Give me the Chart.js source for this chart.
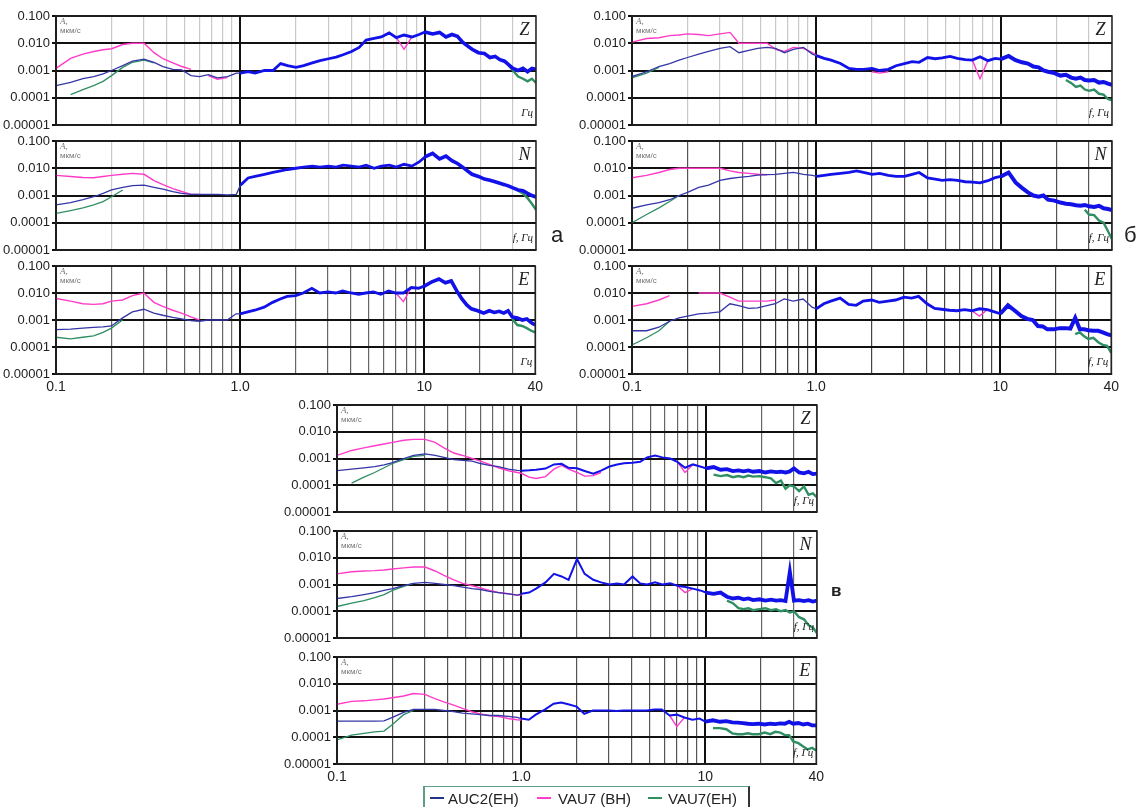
<!DOCTYPE html>
<html><head><meta charset="utf-8">
<script src="https://cdn.jsdelivr.net/npm/chart.js@4.4.0/dist/chart.umd.min.js"></script>
<style>
html,body{margin:0;padding:0;background:#fff;width:1146px;height:807px;overflow:hidden;position:relative;font-family:Arial,"Liberation Sans",sans-serif}
.grp{position:absolute;color:#222;font-family:Arial,"Liberation Sans",sans-serif;line-height:1}
.lgt{position:absolute;font-size:15px;color:#222;line-height:1;white-space:nowrap}
.lgd{position:absolute;height:2px}
</style></head><body>
<script>
const _ = null;
// frequencies (Hz)
const FREQ = [0.1,0.12,0.14,0.16,0.18,0.2,0.23,0.26,0.3,0.34,0.38,0.43,0.48,0.54,0.6,0.67,0.75,0.85,0.95,
  1,1.1,1.2,1.35,1.5,1.65,1.8,2,2.2,2.45,2.7,3,3.3,3.6,4,4.4,4.8,5.3,5.8,6.4,7,7.7,8.5,9.3,
  10,11,12,13,14,15,16,17,18,19.5,21,22.5,24,25.5,27,28.5,30,32,34,36,38,40];
const X_GRID = [0.1,0.2,0.3,0.4,0.5,0.6,0.7,0.8,0.9,1,2,3,4,5,6,7,8,9,10,20,30,40];
const X_LABEL_VALUES = [0.1,1,10,40];
const X_LABEL_TEXT = ['0.1','1.0','10','40'];
const Y_TICKS = [1e-5,1e-4,1e-3,1e-2,1e-1];
const Y_LABELS = ['0.00001','0.0001','0.001','0.010','0.100'];
const SERIES_NAMES = ['AUC2(EH)','VAU7 (BH)','VAU7(EH)'];
const AMP_LABEL = ['A,','мкм/с'];
const GROUP_LETTERS = ['а','б','в'];

// ---- group а ----
const aZ_auc2 = [2.8e-4,3.7e-4,5e-4,6e-4,7.5e-4,1e-3,1.5e-3,2.2e-3,2.6e-3,2e-3,1.4e-3,1.1e-3,1.05e-3,6.5e-4,6e-4,7e-4,5.4e-4,6e-4,8e-4,
  8e-4,9e-4,8e-4,1e-3,1e-3,1.8e-3,1.5e-3,1.3e-3,1.5e-3,1.9e-3,2.3e-3,2.7e-3,3.1e-3,3.8e-3,5e-3,7e-3,1.3e-2,1.5e-2,1.7e-2,2.4e-2,1.6e-2,2e-2,1.7e-2,2.1e-2,
  2.6e-2,2.2e-2,2.5e-2,1.7e-2,2.1e-2,1.8e-2,1.1e-2,8e-3,6e-3,4.5e-3,4.2e-3,3e-3,3.3e-3,2.5e-3,2.2e-3,1.6e-3,1.2e-3,1e-3,1.2e-3,9e-4,1.2e-3,1.1e-3];
const aZ_vau7bh = [1.2e-3,2.8e-3,4e-3,5e-3,5.8e-3,6.3e-3,9e-3,1e-2,1e-2,4.5e-3,2.7e-3,1.9e-3,1.4e-3,1.1e-3,_,6.5e-4,4.8e-4,5.5e-4,_,
  _,_,_,_,_,_,_,_,_,_,_,_,_,_,_,_,_,_,_,_,1.6e-2,6e-3,1.7e-2,_,
  _,_,_,_,_,_,_,_,_,_,_,_,_,_,_,_,_,_,_,_,_,_];
const aZ_vau7eh = [_,1.3e-4,2e-4,2.8e-4,4e-4,6.5e-4,1.3e-3,2e-3,2.4e-3,1.9e-3,_,_,_,_,_,_,_,_,_,
  _,_,_,_,_,_,_,_,_,_,_,_,_,_,_,_,_,_,_,_,_,_,_,_,
  _,_,_,_,_,_,_,_,_,_,_,_,_,_,_,1.5e-3,1e-3,6e-4,5e-4,4e-4,5e-4,3.5e-4];

const aN_auc2 = [4.5e-4,5.5e-4,7e-4,9e-4,1.2e-3,1.6e-3,2e-3,2.3e-3,2.4e-3,2e-3,1.7e-3,1.4e-3,1.2e-3,1.1e-3,1.1e-3,1.1e-3,1.1e-3,1.05e-3,1.1e-3,
  2.4e-3,4.4e-3,5e-3,6e-3,7e-3,8e-3,9e-3,1e-2,1.1e-2,1.2e-2,1.1e-2,1.2e-2,1.1e-2,1.3e-2,1.2e-2,1.1e-2,1.3e-2,1e-2,1.2e-2,1.3e-2,1.1e-2,1.4e-2,1.2e-2,1.7e-2,
  2.6e-2,3.5e-2,2.2e-2,2.8e-2,1.9e-2,1.5e-2,1.1e-2,8e-3,6e-3,5e-3,4e-3,3.6e-3,3.2e-3,2.8e-3,2.5e-3,2.2e-3,1.9e-3,1.6e-3,1.5e-3,1.2e-3,1e-3,8.8e-4];
const aN_vau7bh = [5.5e-3,5e-3,4.6e-3,4.5e-3,5e-3,5.5e-3,6e-3,6.5e-3,6e-3,3.5e-3,2.5e-3,1.8e-3,1.4e-3,1.1e-3,1.1e-3,_,_,_,_,
  _,_,_,_,_,_,_,_,_,_,_,_,_,_,_,_,_,_,_,_,_,_,_,_,
  _,_,_,_,_,_,_,_,_,_,_,_,_,_,_,_,_,_,_,_,_,_];
const aN_vau7eh = [2.2e-4,2.8e-4,3.5e-4,4.5e-4,6e-4,9e-4,1.6e-3,_,_,_,_,_,_,_,_,_,_,_,_,
  _,_,_,_,_,_,_,_,_,_,_,_,_,_,_,_,_,_,_,_,_,_,_,_,
  _,_,_,_,_,_,_,_,_,_,_,_,_,_,_,_,_,1.5e-3,1.2e-3,8e-4,5e-4,3e-4];

const aE_auc2 = [4.4e-4,4.6e-4,5e-4,5.3e-4,5.6e-4,6e-4,1.2e-3,2e-3,2.5e-3,1.8e-3,1.5e-3,1.25e-3,1.1e-3,9.5e-4,9e-4,1e-3,1e-3,1e-3,1.7e-3,
  1.7e-3,2e-3,2.3e-3,3e-3,4.5e-3,6e-3,7.5e-3,8e-3,1e-2,1.5e-2,1e-2,1.1e-2,1e-2,1.2e-2,1e-2,9e-3,1e-2,1.1e-2,9e-3,1.2e-2,1e-2,1e-2,1.6e-2,1.5e-2,
  1.8e-2,2.6e-2,3.3e-2,2.4e-2,2.8e-2,1.2e-2,6e-3,3.6e-3,2.6e-3,2.2e-3,1.8e-3,2.2e-3,1.9e-3,2.1e-3,1.8e-3,2.2e-3,1.3e-3,1.2e-3,1e-3,1.1e-3,8e-4,6.5e-4];
const aE_vau7bh = [6.3e-3,5e-3,4e-3,3.8e-3,4e-3,5e-3,5.5e-3,8e-3,1e-2,4.5e-3,3.2e-3,2.3e-3,1.8e-3,1.3e-3,1e-3,_,_,_,_,
  _,_,_,_,_,_,_,_,_,_,_,_,_,_,_,_,_,_,_,_,1e-2,4.8e-3,1.6e-2,_,
  _,_,_,_,_,_,_,_,_,_,_,_,_,_,_,_,_,_,_,_,_,_];
const aE_vau7eh = [2.3e-4,2e-4,2.3e-4,2.6e-4,3.5e-4,5e-4,1e-3,_,_,_,_,_,_,_,_,_,_,_,_,
  _,_,_,_,_,_,_,_,_,_,_,_,_,_,_,_,_,_,_,_,_,_,_,_,
  _,_,_,_,_,_,_,_,_,_,_,_,_,_,_,_,1.1e-3,6.5e-4,6e-4,5e-4,4e-4,3.5e-4];

// ---- group б ----
const bZ_auc2 = [6e-4,9e-4,1.4e-3,1.8e-3,2.4e-3,3e-3,4e-3,5e-3,6.5e-3,7.5e-3,4.5e-3,5.5e-3,6.5e-3,7e-3,6.5e-3,4.5e-3,6e-3,7e-3,4e-3,
  3.5e-3,2.8e-3,2.4e-3,1.8e-3,1.2e-3,1.1e-3,1.1e-3,1.2e-3,1e-3,1.1e-3,1.5e-3,1.8e-3,2.1e-3,2e-3,3e-3,2.7e-3,2.9e-3,3.3e-3,2.8e-3,2.5e-3,2.4e-3,3.2e-3,2.3e-3,2.8e-3,
  2.6e-3,3.4e-3,2.4e-3,2e-3,1.8e-3,1.4e-3,1.3e-3,1e-3,9e-4,8e-4,6.5e-4,7e-4,5.5e-4,5e-4,5.5e-4,4.5e-4,4.3e-4,4.5e-4,3.6e-4,3.8e-4,3.3e-4,3e-4];
const bZ_vau7bh = [1.1e-2,1.5e-2,1.6e-2,1.9e-2,2e-2,2.2e-2,2.1e-2,1.9e-2,2.2e-2,2.5e-2,1e-2,1e-2,1e-2,1e-2,6e-3,5e-3,7e-3,6.5e-3,4.5e-3,
  3.5e-3,_,_,_,_,_,_,9e-4,8e-4,9e-4,_,_,_,_,_,_,_,_,_,_,2.4e-3,5e-4,2.3e-3,_,
  _,_,_,_,_,_,_,_,_,_,_,_,_,_,_,_,_,_,_,_,_,_];
const bZ_vau7eh = [5.4e-4,8e-4,1.3e-3,_,_,_,_,_,_,_,_,_,_,_,_,_,_,_,_,
  _,_,_,_,_,_,_,_,_,_,_,_,_,_,_,_,_,_,_,_,_,_,_,_,
  _,_,_,_,_,_,_,_,_,_,_,4.5e-4,3.5e-4,2.5e-4,2.8e-4,2e-4,1.8e-4,2e-4,1.4e-4,1.3e-4,9e-5,8e-5];

const bN_auc2 = [3.4e-4,4.5e-4,5.5e-4,7e-4,1e-3,1.3e-3,2e-3,2.4e-3,3.6e-3,4.2e-3,4.6e-3,5e-3,5.6e-3,5.8e-3,6e-3,6.5e-3,7e-3,6e-3,5.5e-3,
  5e-3,5.5e-3,6e-3,6.5e-3,7e-3,8e-3,7e-3,6e-3,6.5e-3,5.5e-3,5e-3,5e-3,6e-3,7e-3,4.4e-3,4e-3,3.6e-3,3.8e-3,3.6e-3,3.2e-3,3.1e-3,2.9e-3,3.5e-3,4.5e-3,
  5e-3,7e-3,3e-3,1.9e-3,1.3e-3,1e-3,9e-4,1e-3,7e-4,6.5e-4,5.5e-4,5e-4,4.8e-4,4.4e-4,4.2e-4,4.5e-4,4e-4,3.8e-4,4.2e-4,3.4e-4,3.2e-4,2.9e-4];
const bN_vau7bh = [4.5e-3,5.5e-3,7e-3,9e-3,1e-2,1e-2,1e-2,1e-2,1e-2,8e-3,7e-3,6.5e-3,6e-3,5.8e-3,_,_,_,_,_,
  _,_,_,_,_,_,_,_,_,_,_,_,_,_,_,_,_,_,_,_,_,_,_,_,
  _,_,_,_,_,_,_,_,_,_,_,_,_,_,_,_,_,_,_,_,_,_];
const bN_vau7eh = [1e-4,2e-4,3.5e-4,6e-4,1e-3,_,_,_,_,_,_,_,_,_,_,_,_,_,_,
  _,_,_,_,_,_,_,_,_,_,_,_,_,_,_,_,_,_,_,_,_,_,_,_,
  _,_,_,_,_,_,_,_,_,_,_,_,_,_,_,3e-4,2e-4,1.9e-4,1.2e-4,1e-4,5e-5,2.5e-5];

const bE_auc2 = [4e-4,4e-4,5.4e-4,9e-4,1.2e-3,1.4e-3,1.7e-3,1.8e-3,2e-3,4e-3,3.4e-3,2.7e-3,2.8e-3,3.4e-3,4e-3,6e-3,5e-3,6e-3,3e-3,
  2.6e-3,4e-3,5e-3,6.5e-3,3.8e-3,3.5e-3,5e-3,5.5e-3,4.5e-3,5e-3,5.5e-3,7e-3,6.5e-3,7.5e-3,4e-3,2.7e-3,2.5e-3,2.3e-3,2.2e-3,2.4e-3,2.2e-3,2.6e-3,2.4e-3,2e-3,
  1.7e-3,3.5e-3,2.2e-3,1.4e-3,1.1e-3,1e-3,6e-4,5.8e-4,4.5e-4,4.5e-4,5e-4,5e-4,4.8e-4,1.2e-3,4.5e-4,4.5e-4,4.2e-4,4e-4,4e-4,3.5e-4,3e-4,2.7e-4];
const bE_vau7bh = [3.2e-3,4e-3,5.5e-3,8e-3,_,_,1e-2,1e-2,1e-2,7e-3,5e-3,5e-3,5e-3,5e-3,5.5e-3,_,_,_,_,
  _,_,_,_,_,_,_,_,_,_,_,_,_,_,_,_,_,_,_,_,2.2e-3,1.4e-3,2.4e-3,_,
  _,_,_,_,_,_,_,_,_,_,_,_,_,_,_,_,_,_,_,_,_,_];
const bE_vau7eh = [1.2e-4,2.2e-4,4e-4,9e-4,_,_,_,_,_,_,_,_,_,_,_,_,_,_,_,
  _,_,_,_,_,_,_,_,_,_,_,_,_,_,_,_,_,_,_,_,_,_,_,_,
  _,_,_,_,_,_,_,_,_,_,_,_,_,3e-4,3.5e-4,2.5e-4,2e-4,2.2e-4,1.5e-4,1.2e-4,1.1e-4,6e-5];

// ---- group в ----
const vZ_auc2 = [3.5e-4,4e-4,4.5e-4,5e-4,5.8e-4,7e-4,1e-3,1.3e-3,1.5e-3,1.3e-3,1.1e-3,9e-4,8.5e-4,8e-4,6.5e-4,5.5e-4,5e-4,4e-4,3.6e-4,
  3.5e-4,3.6e-4,3.8e-4,4.2e-4,6e-4,6.3e-4,4.5e-4,4.3e-4,3.4e-4,2.7e-4,3.5e-4,5e-4,6e-4,6.6e-4,7e-4,7.5e-4,1.1e-3,1.3e-3,1.1e-3,1e-3,7.5e-4,4.5e-4,6e-4,5e-4,
  4.3e-4,4.8e-4,3.8e-4,4e-4,3.4e-4,3.6e-4,3.3e-4,3.6e-4,3.2e-4,3.4e-4,3e-4,3.3e-4,3.1e-4,3.2e-4,3e-4,3.3e-4,4.3e-4,3e-4,2.8e-4,3.2e-4,2.6e-4,2.7e-4];
const vZ_vau7bh = [1.3e-3,2e-3,2.5e-3,3e-3,3.5e-3,4e-3,4.8e-3,5.2e-3,5.2e-3,4e-3,2.5e-3,1.6e-3,1.3e-3,1e-3,8e-4,6e-4,4.5e-4,3.5e-4,3e-4,
  2.8e-4,2e-4,1.8e-4,2.1e-4,4e-4,5.5e-4,4e-4,3e-4,2.2e-4,2.3e-4,3e-4,_,_,_,_,_,_,_,_,_,7.5e-4,3e-4,6e-4,_,
  _,_,_,_,_,_,_,_,_,_,_,_,_,_,_,_,_,_,_,_,_,_];
const vZ_vau7eh = [_,1.2e-4,2e-4,3e-4,4.5e-4,6.5e-4,9e-4,1.2e-3,1.3e-3,_,_,_,_,_,_,_,_,_,_,
  _,_,_,_,_,_,_,_,_,_,_,_,_,_,_,_,_,_,_,_,_,_,_,_,
  _,2.5e-4,2.2e-4,2.4e-4,2e-4,2.2e-4,2e-4,2.3e-4,2.1e-4,2.2e-4,2e-4,1.8e-4,1.2e-4,1.5e-4,7.5e-5,1e-4,9e-5,6e-5,9e-5,4.4e-5,5e-5,3.5e-5];

const vN_auc2 = [3e-4,3.5e-4,4.2e-4,5e-4,6e-4,7e-4,9e-4,1.1e-3,1.2e-3,1.1e-3,1e-3,9e-4,8e-4,7e-4,6.5e-4,5.5e-4,5e-4,4.5e-4,4e-4,
  4.5e-4,5e-4,7e-4,1.2e-3,2.5e-3,2e-3,1.5e-3,9e-3,2.5e-3,1.5e-3,1.2e-3,1e-3,1.1e-3,1e-3,2e-3,1.1e-3,1e-3,1.2e-3,1e-3,1.1e-3,9e-4,8e-4,7e-4,6e-4,
  5e-4,4.5e-4,5e-4,3.5e-4,3e-4,3.2e-4,2.8e-4,3e-4,2.6e-4,2.8e-4,2.5e-4,2.7e-4,2.5e-4,2.6e-4,2.4e-4,3e-3,2.5e-4,2.6e-4,2.4e-4,2.6e-4,2.3e-4,2.5e-4];
const vN_vau7bh = [2.5e-3,3e-3,3.2e-3,3.3e-3,3.5e-3,3.8e-3,4.2e-3,4.5e-3,4.5e-3,3.2e-3,2.2e-3,1.5e-3,1.1e-3,9e-4,7.5e-4,6e-4,5e-4,4.5e-4,4e-4,
  4e-4,_,_,_,_,_,_,_,_,_,_,_,_,_,_,_,_,_,_,_,9e-4,5e-4,7e-4,_,
  _,_,_,_,_,_,_,_,_,_,_,_,_,_,_,_,_,_,_,_,_,_];
const vN_vau7eh = [1.5e-4,2e-4,2.5e-4,3.2e-4,4.2e-4,6e-4,8.5e-4,1.1e-3,_,_,_,_,_,_,_,_,_,_,_,
  _,_,_,_,_,_,_,_,_,_,_,_,_,_,_,_,_,_,_,_,_,_,_,_,
  _,_,_,2.5e-4,2e-4,1.3e-4,1.2e-4,1.3e-4,1.1e-4,1.2e-4,1.3e-4,1.1e-4,1.2e-4,1e-4,1.1e-4,9e-5,1e-4,6e-5,5e-5,3e-5,2.5e-5,1.5e-5];

const vE_auc2 = [4e-4,4e-4,4e-4,4e-4,4.1e-4,5.5e-4,8.5e-4,1.1e-3,1.1e-3,1.1e-3,1e-3,9e-4,8e-4,7.5e-4,7e-4,6.5e-4,6.5e-4,6e-4,5.5e-4,
  5e-4,4.5e-4,7e-4,1.1e-3,1.8e-3,2e-3,1.7e-3,1.4e-3,7.5e-4,1e-3,1e-3,1e-3,9.5e-4,1e-3,1e-3,1e-3,1e-3,1.1e-3,1.1e-3,6.5e-4,7e-4,5.5e-4,4.5e-4,5e-4,
  3.8e-4,4.3e-4,3.8e-4,4e-4,3.6e-4,3.5e-4,3.4e-4,3.2e-4,3.1e-4,3.2e-4,3e-4,3.2e-4,3.1e-4,3.3e-4,3.2e-4,3.8e-4,3.2e-4,3.4e-4,3e-4,3.2e-4,2.8e-4,2.8e-4];
const vE_vau7bh = [1.7e-3,2.2e-3,2.3e-3,2.5e-3,2.7e-3,3e-3,3.5e-3,4.3e-3,4e-3,2.8e-3,2.1e-3,1.6e-3,1.2e-3,9e-4,7.5e-4,6.5e-4,6e-4,5e-4,4.5e-4,
  4.4e-4,_,_,_,_,_,_,_,_,_,_,_,_,_,_,_,_,_,_,6.5e-4,2.5e-4,5.5e-4,_,_,
  _,_,_,_,_,_,_,_,_,_,_,_,_,_,_,_,_,_,_,_,_,_];
const vE_vau7eh = [8e-5,1.2e-4,1.4e-4,1.6e-4,1.7e-4,3e-4,7e-4,1e-3,_,_,_,_,_,_,_,_,_,_,_,
  _,_,_,_,_,_,_,_,_,_,_,_,_,_,_,_,_,_,_,_,_,_,_,_,
  _,2.2e-4,2.2e-4,2e-4,1.4e-4,1.3e-4,1.3e-4,1.4e-4,1.3e-4,1.3e-4,1.5e-4,1.3e-4,1.6e-4,1.5e-4,1.2e-4,1.2e-4,7e-5,6e-5,4.5e-5,3.5e-5,4e-5,3.2e-5];

// ---- layout / style ----
const COLORS = {blueLo:'#3535a8', blue:'#1212e8', magenta:'#ff3cc8', green:'#2f8f62'};
const PANELS = [
  {left:56, right:536, top:16, bottom:125, comp:'Z', unit:'Гц', minor:'#c9c9c9', xl:false, wMid:2.8, wHigh:3.6, data:[aZ_auc2,aZ_vau7bh,aZ_vau7eh]},
  {left:56, right:536, top:141, bottom:250, comp:'N', unit:'f, Гц', minor:'#c9c9c9', xl:false, wMid:2.8, wHigh:3.6, data:[aN_auc2,aN_vau7bh,aN_vau7eh]},
  {left:56, right:536, top:266, bottom:374, comp:'E', unit:'Гц', minor:'#666', xl:true, wMid:2.8, wHigh:3.6, data:[aE_auc2,aE_vau7bh,aE_vau7eh]},
  {left:632, right:1112, top:16, bottom:125, comp:'Z', unit:'f, Гц', minor:'#c9c9c9', xl:false, wMid:2.8, wHigh:4, data:[bZ_auc2,bZ_vau7bh,bZ_vau7eh]},
  {left:632, right:1112, top:141, bottom:250, comp:'N', unit:'f, Гц', minor:'#555', xl:false, wMid:2.8, wHigh:4, data:[bN_auc2,bN_vau7bh,bN_vau7eh]},
  {left:632, right:1112, top:266, bottom:374, comp:'E', unit:'f, Гц', minor:'#444', xl:true, wMid:2.8, wHigh:4, data:[bE_auc2,bE_vau7bh,bE_vau7eh]},
  {left:337, right:817, top:405, bottom:512, comp:'Z', unit:'f, Гц', minor:'#666', xl:false, wMid:2, wHigh:3.8, data:[vZ_auc2,vZ_vau7bh,vZ_vau7eh]},
  {left:337, right:817, top:531, bottom:638, comp:'N', unit:'f, Гц', minor:'#666', xl:false, wMid:2, wHigh:3.8, data:[vN_auc2,vN_vau7bh,vN_vau7eh]},
  {left:337, right:817, top:657, bottom:764, comp:'E', unit:'f, Гц', minor:'#555', xl:true, wMid:2, wHigh:3.8, data:[vE_auc2,vE_vau7bh,vE_vau7eh]}
];

Chart.defaults.font.family = 'Arial, "Liberation Sans", sans-serif';
const isMajor = v => Math.abs(v-1)<1e-9 || Math.abs(v-10)<1e-9;
const pts = arr => FREQ.map((f,i)=>({x:f, y:arr[i]}));

function decoPlugin(p){
  return {id:'deco', afterDraw(chart){
    const ctx = chart.ctx, a = chart.chartArea, xs = chart.scales.x, ys = chart.scales.y;
    ctx.save();
    ctx.strokeStyle = '#222'; ctx.lineWidth = 1.5;
    ctx.strokeRect(a.left, a.top, a.right-a.left, a.bottom-a.top);
    ctx.fillStyle = '#222'; ctx.textAlign = 'center'; ctx.textBaseline = 'middle';
    ctx.font = 'italic 18px "Liberation Serif","DejaVu Serif",serif';
    ctx.fillText(p.comp, (xs.getPixelForValue(30)+a.right)/2, (a.top+ys.getPixelForValue(0.01))/2+1);
    ctx.font = 'italic 11px "Liberation Serif","DejaVu Serif",serif';
    ctx.textAlign = 'right';
    ctx.fillText(p.unit, a.right-3, (ys.getPixelForValue(1e-4)+a.bottom)/2+2);
    ctx.textAlign = 'left'; ctx.fillStyle = '#777';
    ctx.font = 'italic 9px "Liberation Serif",serif';
    ctx.fillText(AMP_LABEL[0], a.left+4, a.top+6);
    ctx.font = '8px Arial';
    ctx.fillText(AMP_LABEL[1], a.left+4, a.top+15);
    ctx.restore();
  }};
}

function buildPanel(p){
  const yW=56, padT=10, padR=12, padB=p.xl?0:10, xH=p.xl?24:0;
  const L=Math.round(p.left), R=Math.round(p.right), T=Math.round(p.top), B=Math.round(p.bottom);
  const w=(R-L)+yW+padR, h=(B-T)+padT+padB+xH;
  const cv=document.createElement('canvas');
  cv.width=w; cv.height=h;
  Object.assign(cv.style,{position:'absolute',left:(L-yW)+'px',top:(T-padT)+'px',width:w+'px',height:h+'px'});
  document.body.appendChild(cv);
  const datasets = [
    {label:SERIES_NAMES[0], data:pts(p.data[0]), borderColor:COLORS.blue, borderWidth:1.3, borderJoinStyle:'miter',
     segment:{borderColor:c=>FREQ[c.p0DataIndex]<1?COLORS.blueLo:COLORS.blue,
              borderWidth:c=>{const f=FREQ[c.p0DataIndex]; return f<1?1.3:(f<10?p.wMid:p.wHigh);}}},
    {label:SERIES_NAMES[1], data:pts(p.data[1]), borderColor:COLORS.magenta, borderWidth:1.4},
    {label:SERIES_NAMES[2], data:pts(p.data[2]), borderColor:COLORS.green, borderWidth:1.3,
     segment:{borderWidth:c=>FREQ[c.p0DataIndex]>=10?2.4:1.3}}
  ];
  new Chart(cv, {
    type:'line',
    data:{datasets},
    options:{
      responsive:false, animation:false, devicePixelRatio:1,
      layout:{padding:{top:padT,right:padR,bottom:padB,left:0}},
      plugins:{legend:{display:false}, tooltip:{enabled:false}},
      elements:{point:{radius:0}, line:{tension:0}},
      spanGaps:false,
      scales:{
        x:{type:'logarithmic', min:0.1, max:40,
          afterBuildTicks:s=>{s.ticks = X_GRID.map(v=>({value:v}));},
          afterFit:s=>{s.height = xH;},
          grid:{color:c=>isMajor(c.tick.value)?'#111':p.minor, lineWidth:c=>isMajor(c.tick.value)?2:1.2, drawTicks:false},
          border:{color:'#111', width:2},
          ticks:{display:p.xl, autoSkip:false, maxRotation:0, minRotation:0, padding:5, color:'#222',
            font:{size:14},
            callback:v=>{const i=X_LABEL_VALUES.findIndex(q=>Math.abs(q-v)<1e-9); return i<0?'':X_LABEL_TEXT[i];}}
        },
        y:{type:'logarithmic', min:1e-5, max:0.1,
          afterBuildTicks:s=>{s.ticks = Y_TICKS.map(v=>({value:v}));},
          afterFit:s=>{s.width = yW;},
          grid:{color:'#111', lineWidth:2, drawTicks:true, tickLength:4},
          border:{color:'#111', width:2},
          ticks:{autoSkip:false, padding:2, color:'#222',
            font:{size:13},
            callback:v=>{const i=Y_TICKS.findIndex(q=>Math.abs(q-v)/q<1e-6); return i<0?'':Y_LABELS[i];}}
        }
      }
    },
    plugins:[decoPlugin(p)]
  });
}
PANELS.forEach(buildPanel);

// group letters
const LETTER_POS = [{x:551,y:224,size:22,weight:'normal'},{x:1124,y:224,size:22,weight:'normal'},{x:831,y:582,size:17,weight:'bold'}];
GROUP_LETTERS.forEach((t,i)=>{
  const d=document.createElement('div'); d.className='grp'; d.textContent=t;
  const lp=LETTER_POS[i];
  Object.assign(d.style,{left:lp.x+'px',top:lp.y+'px',fontSize:lp.size+'px',fontWeight:lp.weight});
  document.body.appendChild(d);
});

// legend
const lg=document.createElement('div');
Object.assign(lg.style,{position:'absolute',left:'423px',top:'786px',width:'323px',height:'22px',
  borderTop:'1px solid #5e9e86',borderLeft:'2px solid #5e9e86',borderRight:'2px solid #333'});
document.body.appendChild(lg);
const LEG_COLORS=['#22338a',COLORS.magenta,COLORS.green];
const LEG_POS=[{d:430,t:448},{d:537,t:558},{d:648,t:668}];
SERIES_NAMES.forEach((n,i)=>{
  const dash=document.createElement('div'); dash.className='lgd';
  Object.assign(dash.style,{left:LEG_POS[i].d+'px',top:'797px',width:'14px',background:LEG_COLORS[i]});
  document.body.appendChild(dash);
  const t=document.createElement('div'); t.className='lgt'; t.textContent=n;
  Object.assign(t.style,{left:LEG_POS[i].t+'px',top:'791px'});
  document.body.appendChild(t);
});
</script>
</body></html>
